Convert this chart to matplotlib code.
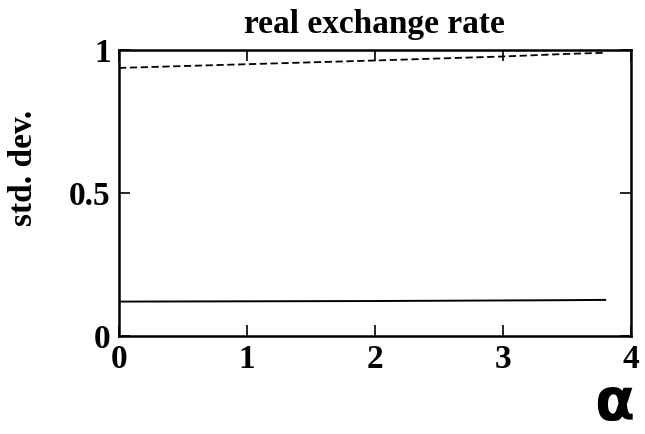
import numpy as np
import matplotlib
matplotlib.use("Agg")
import matplotlib.pyplot as plt

# Fonte serifada (estilo Times)
plt.rcParams['font.family'] = ['Liberation Serif', 'DejaVu Serif']

# Dados: desvio padrão da taxa de câmbio real em função de alpha
alpha = [0.0, 1.0, 2.0, 3.0, 3.5, 3.8]
std_tracejada = [0.937, 0.950, 0.963, 0.977, 0.986, 0.990]
std_solida = [0.120, 0.121, 0.122, 0.124, 0.125, 0.126]

xticks = [0, 1, 2, 3, 4]
xtick_labels = ['0', '1', '2', '3', '4']
yticks = [0, 0.5, 1]
ytick_labels = ['0', '0.5', '1']

fig = plt.figure(figsize=(6.45, 4.34), dpi=100)
ax = fig.add_axes([0.1845, 0.226, 0.7935, 0.659])

ax.plot(alpha, std_tracejada, color='black', lw=1.3, dashes=(4, 2))
ax.plot(alpha, std_solida, color='black', lw=1.4)

ax.set_xlim(0, 4)
ax.set_ylim(0, 1)

for s in ax.spines.values():
    s.set_linewidth(1.8)

ax.set_xticks(xticks)
ax.set_xticklabels(xtick_labels, fontsize=24, fontweight='bold')
ax.set_yticks(yticks)
ax.set_yticklabels(ytick_labels, fontsize=24, fontweight='bold')
ax.tick_params(direction='in', length=8, width=1.2, top=True, right=True, pad=6)

ax.set_title('real exchange rate', fontsize=24, fontweight='bold', pad=12)

# rótulo do eixo y
fig.text(0.036, 0.613, 'std. dev.', fontsize=24, fontweight='bold',
         rotation=90, ha='center', va='center')

# alpha escrito à mão no canto inferior direito
fig.text(0.952, 0.07, 'α', fontsize=42, fontweight='bold',
         family=['DejaVu Sans'], ha='center', va='center')

plt.savefig('out.png', dpi=100)
